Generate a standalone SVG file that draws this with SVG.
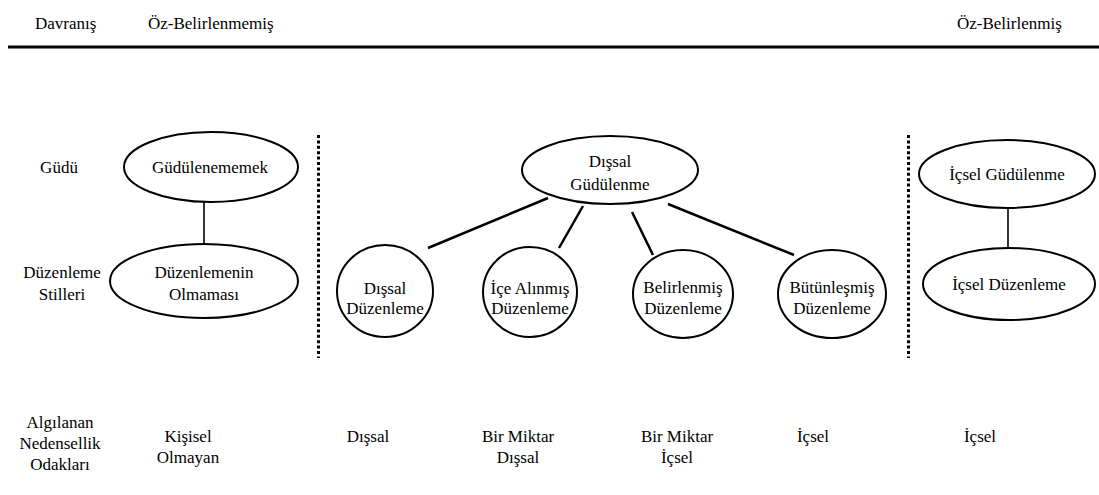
<svg xmlns="http://www.w3.org/2000/svg" width="1099" height="495" viewBox="0 0 1099 495" font-family="'Liberation Serif', 'Times New Roman', Times, 'DejaVu Serif', serif">
<style>
text{font-family:"Liberation Serif","Times New Roman",Times,"DejaVu Serif",serif;font-size:17px;fill:#000;text-anchor:middle}
.l{text-anchor:start}
ellipse{fill:#fff;stroke:#000;stroke-width:2}
.c{stroke:#000;stroke-width:2.5;fill:none}
.v{stroke:#000;stroke-width:1.6;fill:none}
.d{stroke:#000;stroke-width:3;stroke-dasharray:3 2.4;fill:none}
</style>
<rect width="1099" height="495" fill="#fff"/>
<g id="header">
<text class="l" x="35" y="29">Davranış</text>
<text class="l" x="148" y="29">Öz-Belirlenmemiş</text>
<text class="l" x="957" y="29">Öz-Belirlenmiş</text>
<line x1="8" y1="47" x2="1099" y2="47" stroke="#000" stroke-width="3"/>
</g>
<g id="dividers">
<line class="d" x1="318.5" y1="135" x2="318.5" y2="358"/>
<line class="d" x1="908.5" y1="135" x2="908.5" y2="358"/>
</g>
<g id="row-labels">
<text x="59" y="173">Güdü</text>
<text x="62" y="278">Düzenleme</text>
<text x="62" y="300">Stilleri</text>
<text x="60" y="428">Algılanan</text>
<text x="60" y="449">Nedensellik</text>
<text x="60" y="470">Odakları</text>
</g>
<g id="connectors">
<line class="v" x1="204" y1="201" x2="204" y2="245"/>
<line class="c" x1="548" y1="198" x2="428" y2="248"/>
<line class="c" x1="583" y1="206" x2="559" y2="248"/>
<line class="c" x1="632" y1="212" x2="653" y2="255"/>
<line class="c" x1="668" y1="204" x2="794" y2="255"/>
<line class="v" x1="1008" y1="208" x2="1008" y2="248"/>
</g>
<g id="n-gudulenememek">
<ellipse cx="211" cy="167" rx="87" ry="35"/>
<text x="210" y="173">Güdülenememek</text>
</g>
<g id="n-duzenlemenin-olmamasi">
<ellipse cx="204" cy="281" rx="94" ry="37"/>
<text x="204" y="278">Düzenlemenin</text>
<text x="204" y="300">Olmaması</text>
</g>
<g id="n-dissal-gudulenme">
<ellipse cx="610" cy="170" rx="88" ry="34"/>
<text x="610" y="167">Dışsal</text>
<text x="610" y="190">Güdülenme</text>
</g>
<g id="n-dissal-duzenleme">
<ellipse cx="385" cy="291" rx="48" ry="46"/>
<text x="385" y="294">Dışsal</text>
<text x="385" y="314">Düzenleme</text>
</g>
<g id="n-ice-alinmis">
<ellipse cx="530" cy="292" rx="47" ry="45"/>
<text x="530" y="294">İçe Alınmış</text>
<text x="530" y="314">Düzenleme</text>
</g>
<g id="n-belirlenmis">
<ellipse cx="683" cy="294" rx="50" ry="44"/>
<text x="683" y="293">Belirlenmiş</text>
<text x="683" y="314">Düzenleme</text>
</g>
<g id="n-butunlesmis">
<ellipse cx="832" cy="294" rx="54" ry="44"/>
<text x="832" y="293">Bütünleşmiş</text>
<text x="832" y="314">Düzenleme</text>
</g>
<g id="n-icsel-gudulenme">
<ellipse cx="1007" cy="174" rx="88" ry="34"/>
<text x="1007" y="180">İçsel Güdülenme</text>
</g>
<g id="n-icsel-duzenleme">
<ellipse cx="1009" cy="284" rx="86" ry="36"/>
<text x="1009" y="290">İçsel Düzenleme</text>
</g>
<g id="loci">
<text x="188" y="442">Kişisel</text>
<text x="188" y="463">Olmayan</text>
<text x="368" y="442">Dışsal</text>
<text x="518" y="442">Bir Miktar</text>
<text x="518" y="463">Dışsal</text>
<text x="677" y="442">Bir Miktar</text>
<text x="677" y="463">İçsel</text>
<text x="813" y="442">İçsel</text>
<text x="980" y="442">İçsel</text>
</g>
</svg>
